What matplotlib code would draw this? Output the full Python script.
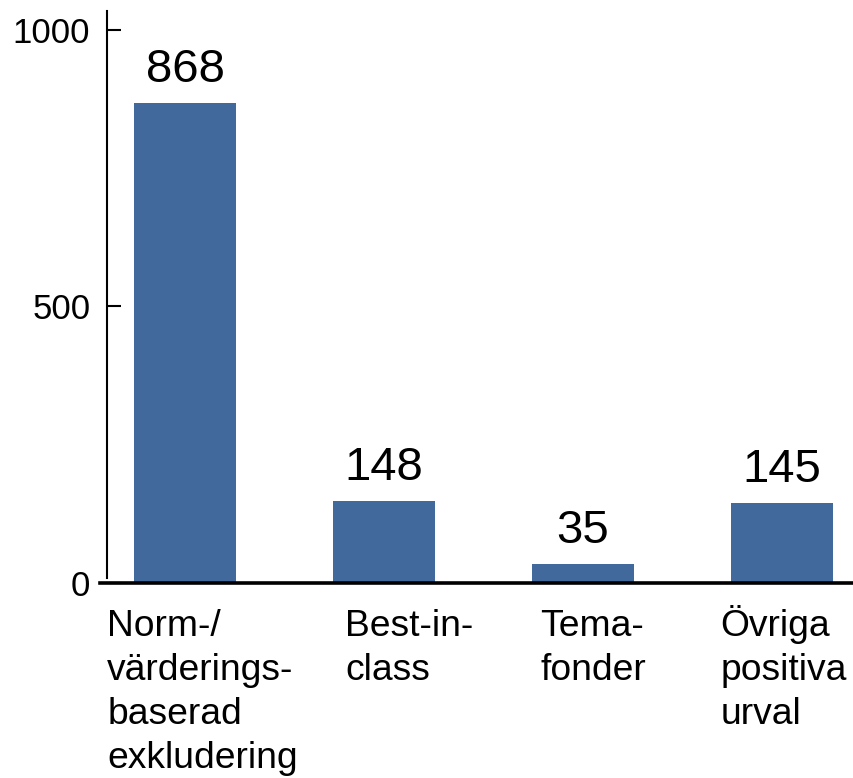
import matplotlib
matplotlib.use("Agg")
import matplotlib.pyplot as plt

plt.rcParams['font.family'] = ['Liberation Sans', 'DejaVu Sans']

# ── Data ──
categories = ["Norm-/\nvärderings-\nbaserad\nexkludering",
              "Best-in-\nclass",
              "Tema-\nfonder",
              "Övriga\npositiva\nurval"]
values = [868, 148, 35, 145]
yticks = [0, 500, 1000]

bar_color = "#41699B"
# left edge of each category label relative to its bar centre (data units)
label_dx = [-0.39, -0.195, -0.215, -0.31]
line_step = 44  # px between label baselines

fig = plt.figure(figsize=(8.54, 7.78), dpi=100)
ax = fig.add_axes([100 / 854, 195 / 778, 754 / 854, 572 / 778])

x = range(len(values))
ax.bar(x, values, width=0.513, color=bar_color, zorder=2)

for i, v in enumerate(values):
    ax.annotate(str(v), (i, v), xytext=(0, 8), textcoords='offset points',
                ha='center', va='bottom', fontsize=34)
    # one text per line so every label starts on the same baseline
    for j, line in enumerate(categories[i].split("\n")):
        ax.annotate(line, (i + label_dx[i], -96), xytext=(0, -line_step * j),
                    textcoords='offset pixels', ha='left', va='baseline',
                    fontsize=26.8, annotation_clip=False)

ax.set_xlim(-0.427, 3.362)
ax.set_ylim(0, 1034)

ax.spines['top'].set_visible(False)
ax.spines['right'].set_visible(False)
ax.spines['left'].set_position(('outward', -5))
ax.spines['left'].set_linewidth(1.5)
ax.spines['left'].set_bounds(9, 1034)
ax.spines['bottom'].set_linewidth(2.6)

ax.set_xticks([])
ax.set_yticks(yticks)
ax.tick_params(axis='y', direction='in', length=10, width=1.5, pad=12,
               labelsize=25)

fig.savefig("out.png", dpi=100)
